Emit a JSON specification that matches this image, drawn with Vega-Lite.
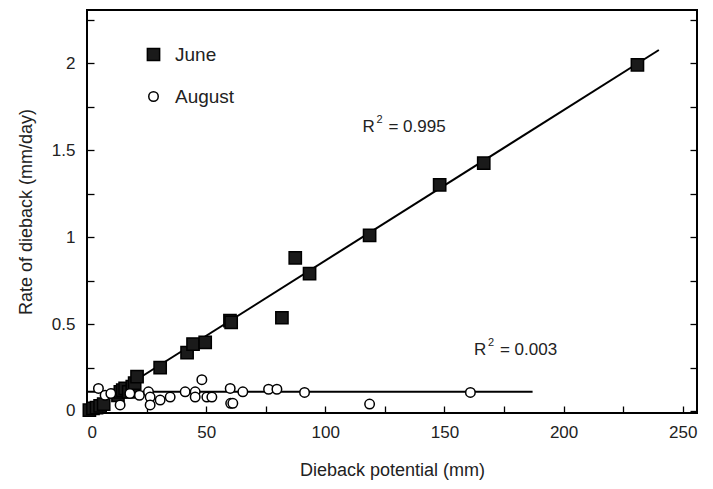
{
  "$schema": "https://vega.github.io/schema/vega-lite/v6.json",
  "autosize": {"type": "none"},
  "padding": {"left": 87, "top": 10, "right": 16, "bottom": 76},
  "width": 610,
  "height": 403,
  "background": "white",
  "config": {
    "view": {"stroke": "black", "strokeWidth": 2},
    "font": "Liberation Sans",
    "axis": {"grid": false, "domain": false, "tickColor": "black", "tickWidth": 1.3, "tickSize": 7, "offset": -7, "labelFontSize": 17, "labelColor": "#222", "titleFontSize": 18, "titleFontWeight": "normal", "titleColor": "#222", "labelFont": "Liberation Sans", "titleFont": "Liberation Sans"},
    "legend": {"padding": 0, "labelFontSize": 19, "labelColor": "#222", "labelFont": "Liberation Sans", "symbolStrokeWidth": 1.5, "labelOffset": 12, "rowPadding": 22}
  },
  "datasets": {
    "obs": [
      {"month": "June", "potential": 1, "rate": 0.005},
      {"month": "June", "potential": 2.5, "rate": 0.015},
      {"month": "June", "potential": 4, "rate": 0.02},
      {"month": "June", "potential": 5.5, "rate": 0.03},
      {"month": "June", "potential": 7, "rate": 0.04},
      {"month": "June", "potential": 13, "rate": 0.09},
      {"month": "June", "potential": 14, "rate": 0.11},
      {"month": "June", "potential": 15, "rate": 0.12},
      {"month": "June", "potential": 16, "rate": 0.13},
      {"month": "June", "potential": 17.5, "rate": 0.11},
      {"month": "June", "potential": 19, "rate": 0.14},
      {"month": "June", "potential": 20, "rate": 0.16},
      {"month": "June", "potential": 21, "rate": 0.197},
      {"month": "June", "potential": 30.7, "rate": 0.25},
      {"month": "June", "potential": 42, "rate": 0.335},
      {"month": "June", "potential": 44.5, "rate": 0.385},
      {"month": "June", "potential": 49.6, "rate": 0.395},
      {"month": "June", "potential": 60, "rate": 0.52},
      {"month": "June", "potential": 60.5, "rate": 0.51},
      {"month": "June", "potential": 81.8, "rate": 0.536},
      {"month": "June", "potential": 87.4, "rate": 0.88},
      {"month": "June", "potential": 93.4, "rate": 0.79},
      {"month": "June", "potential": 118.6, "rate": 1.01},
      {"month": "June", "potential": 148, "rate": 1.3},
      {"month": "June", "potential": 166.5, "rate": 1.425},
      {"month": "June", "potential": 231, "rate": 1.99},
      {"month": "August", "potential": 4.8, "rate": 0.13},
      {"month": "August", "potential": 7.6, "rate": 0.09},
      {"month": "August", "potential": 10, "rate": 0.1},
      {"month": "August", "potential": 13.9, "rate": 0.035},
      {"month": "August", "potential": 18, "rate": 0.1},
      {"month": "August", "potential": 22, "rate": 0.09},
      {"month": "August", "potential": 25.8, "rate": 0.11},
      {"month": "August", "potential": 26.5, "rate": 0.08},
      {"month": "August", "potential": 26.5, "rate": 0.035},
      {"month": "August", "potential": 30.7, "rate": 0.063},
      {"month": "August", "potential": 34.9, "rate": 0.08},
      {"month": "August", "potential": 41.2, "rate": 0.11},
      {"month": "August", "potential": 45.4, "rate": 0.11},
      {"month": "August", "potential": 45.4, "rate": 0.08},
      {"month": "August", "potential": 48.2, "rate": 0.18},
      {"month": "August", "potential": 50.3, "rate": 0.08},
      {"month": "August", "potential": 52.4, "rate": 0.08},
      {"month": "August", "potential": 60.1, "rate": 0.13},
      {"month": "August", "potential": 60.3, "rate": 0.044},
      {"month": "August", "potential": 61.2, "rate": 0.044},
      {"month": "August", "potential": 65.4, "rate": 0.11},
      {"month": "August", "potential": 76.2, "rate": 0.125},
      {"month": "August", "potential": 79.7, "rate": 0.125},
      {"month": "August", "potential": 91.3, "rate": 0.107},
      {"month": "August", "potential": 118.6, "rate": 0.04},
      {"month": "August", "potential": 160.9, "rate": 0.107}
    ],
    "fits": [
      {"series": "June", "potential": 0, "rate": 0.0},
      {"series": "June", "potential": 240, "rate": 2.075},
      {"series": "August", "potential": 0, "rate": 0.11},
      {"series": "August", "potential": 187, "rate": 0.11}
    ],
    "notes": [
      {"base": "R", "sup": "2", "rest": "= 0.995", "potential": 115.6, "rate": 1.632},
      {"base": "R", "sup": "2", "rest": "= 0.003", "potential": 162.4, "rate": 0.35}
    ]
  },
  "resolve": {"axis": {"x": "independent", "y": "independent"}},
  "layer": [
    {
      "data": {"name": "fits"},
      "mark": {"type": "line", "color": "black", "strokeWidth": 2},
      "encoding": {
        "x": {"field": "potential", "type": "quantitative", "scale": {"domain": [0, 256], "nice": false, "zero": false}, "axis": null},
        "y": {"field": "rate", "type": "quantitative", "scale": {"domain": [-0.0115, 2.305], "nice": false, "zero": false},
          "axis": {"orient": "right", "values": [0,0.25,0.5,0.75,1,1.25,1.5,1.75,2,2.25], "labels": false, "title": null}},
        "detail": {"field": "series"}
      }
    },
    {
      "data": {"name": "obs"},
      "mark": {"type": "point", "filled": true, "strokeWidth": 1.5, "opacity": 1},
      "encoding": {
        "x": {"field": "potential", "type": "quantitative", "scale": {"domain": [0, 256], "nice": false, "zero": false},
          "axis": {"orient": "bottom", "values": [0,25,50,75,100,125,150,175,200,225,250], "labelExpr": "datum.value % 50 == 0 ? datum.label : ''", "labelPadding": 11, "title": "Dieback potential (mm)", "titlePadding": 21}},
        "y": {"field": "rate", "type": "quantitative", "scale": {"domain": [-0.0115, 2.305], "nice": false, "zero": false},
          "axis": {"orient": "left", "values": [0,0.25,0.5,0.75,1,1.25,1.5,1.75,2,2.25], "labelExpr": "datum.value % 0.5 == 0 ? '' + datum.value : ''", "labelPadding": 12, "title": "Rate of dieback (mm/day)", "titlePadding": 16}},
        "shape": {"field": "month", "type": "nominal", "scale": {"domain": ["June", "August"], "range": ["square", "circle"]},
          "legend": {"title": null, "orient": "none", "legendX": 57, "legendY": 35}},
        "fill": {"field": "month", "type": "nominal", "scale": {"domain": ["June", "August"], "range": ["#1a1a1a", "white"]},
          "legend": {"title": null, "orient": "none", "legendX": 57, "legendY": 35}},
        "stroke": {"field": "month", "type": "nominal", "scale": {"domain": ["June", "August"], "range": ["black", "black"]},
          "legend": {"title": null, "orient": "none", "legendX": 57, "legendY": 35}},
        "size": {"field": "month", "type": "nominal", "scale": {"domain": ["June", "August"], "range": [150, 90]},
          "legend": {"title": null, "orient": "none", "legendX": 57, "legendY": 35}}
      }
    },
    {
      "data": {"name": "notes"},
      "mark": {"type": "text", "fontSize": 17, "font": "Liberation Sans", "color": "#222", "align": "left", "baseline": "middle"},
      "encoding": {
        "x": {"field": "potential", "type": "quantitative", "scale": {"domain": [0, 256], "nice": false, "zero": false}, "axis": null},
        "y": {"field": "rate", "type": "quantitative", "scale": {"domain": [-0.0115, 2.305], "nice": false, "zero": false}, "axis": null},
        "text": {"field": "base"}
      }
    },
    {
      "data": {"name": "notes"},
      "mark": {"type": "text", "fontSize": 11, "font": "Liberation Sans", "color": "#222", "align": "left", "baseline": "middle", "dx": 14, "dy": -7},
      "encoding": {
        "x": {"field": "potential", "type": "quantitative", "scale": {"domain": [0, 256], "nice": false, "zero": false}, "axis": null},
        "y": {"field": "rate", "type": "quantitative", "scale": {"domain": [-0.0115, 2.305], "nice": false, "zero": false}, "axis": null},
        "text": {"field": "sup"}
      }
    },
    {
      "data": {"name": "notes"},
      "mark": {"type": "text", "fontSize": 17, "font": "Liberation Sans", "color": "#222", "align": "left", "baseline": "middle", "dx": 26},
      "encoding": {
        "x": {"field": "potential", "type": "quantitative", "scale": {"domain": [0, 256], "nice": false, "zero": false}, "axis": null},
        "y": {"field": "rate", "type": "quantitative", "scale": {"domain": [-0.0115, 2.305], "nice": false, "zero": false}, "axis": null},
        "text": {"field": "rest"}
      }
    }
  ]
}
